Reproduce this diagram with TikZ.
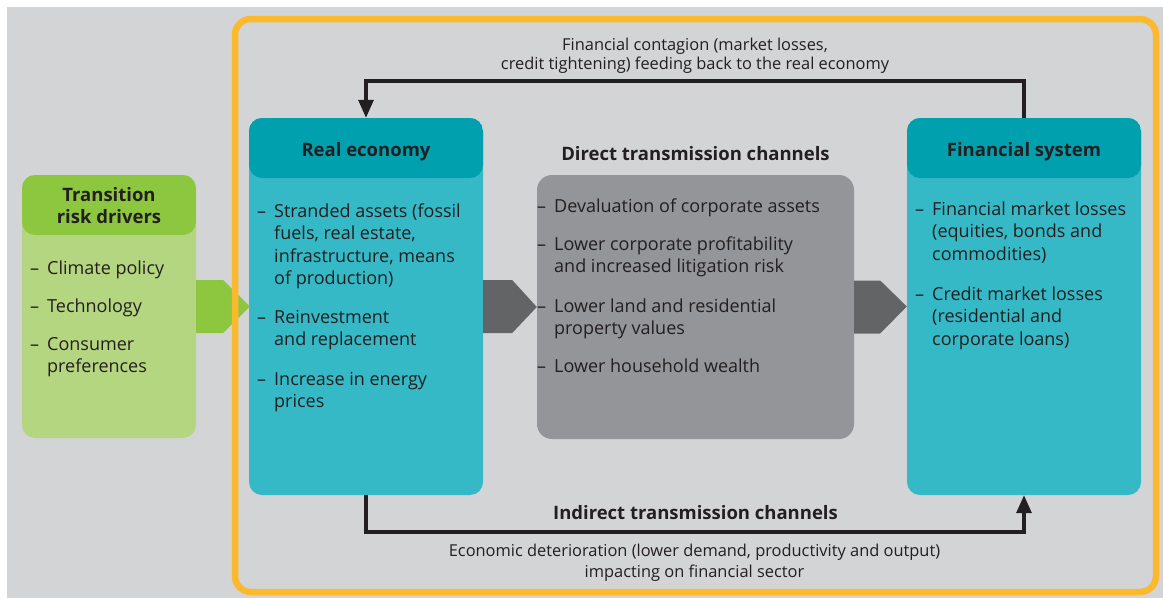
\documentclass[tikz,border=0pt]{standalone}
\usepackage{fontspec}
\setmainfont{Open Sans}
\usetikzlibrary{arrows.meta,calc}
\definecolor{bg}{HTML}{D3D4D6}
\definecolor{orng}{HTML}{FDB92E}
\definecolor{greenH}{HTML}{8DC63F}
\definecolor{greenB}{HTML}{B5D680}
\definecolor{tealH}{HTML}{00A0AF}
\definecolor{tealB}{HTML}{36B9C6}
\definecolor{midgray}{HTML}{939598}
\definecolor{arrgray}{HTML}{636466}
\definecolor{txt}{HTML}{231F20}
\newcommand\itm[1]{\makebox[17pt][l]{–}\begin{tabular}[t]{@{}l@{}}#1\end{tabular}}
\tikzset{
  x=1pt,y=-1pt,
  rbox/.style={inner sep=0pt, rounded corners=13pt, draw=none},
  hbox/.style 2 args={rbox, fill=#1, path picture={\fill[#2] (path picture bounding box.north west) rectangle ([yshift=-60pt]path picture bounding box.north east);}},
  hdtxt/.style={font=\bfseries\fontsize{18.5}{22}\selectfont, text=txt, align=center, inner sep=0pt},
  bdtxt/.style={font=\fontsize{18}{22.5}\selectfont, text=txt, anchor=base west, inner sep=0pt},
  captxt/.style={font=\fontsize{16.4}{19}\selectfont, text=txt, align=center, inner sep=0pt},
  conn/.style={draw=txt, line width=3.2pt},
  arrtip/.style={-{Triangle[length=18pt,width=15pt]}},
}
\begin{document}
\begin{tikzpicture}
\useasboundingbox (0,0) rectangle (1163,598);
\fill[white] (0,0) rectangle (1163,598);
\fill[bg] (7,7) rectangle (1163,598);

% boxes
\node[hbox={greenB}{greenH}, minimum width=174pt, minimum height=263pt] (drv) at (109,306.5) {};
\node[hbox={tealB}{tealH}, minimum width=234pt, minimum height=377pt] (re) at (366,306.5) {};
\node[rbox, fill=midgray, minimum width=317pt, minimum height=264pt, rounded corners=15pt] (mid) at (695.5,307) {};
\node[hbox={tealB}{tealH}, minimum width=234pt, minimum height=377pt] (fin) at (1024,306.5) {};

% chevrons
\fill[greenH] ($(drv.east)+(0,-26.5)$) -- ++(27,0) -- ($(re.west)+(1,0)$) -- ($(drv.east)+(27,26.5)$) -- ($(drv.east)+(0,26.5)$) -- cycle;
\fill[arrgray] ($(re.east)+(0,-26.5)$) -- ++(29,0) -- (mid.west) -- ($(re.east)+(29,26.5)$) -- ($(re.east)+(0,26.5)$) -- cycle;
\fill[arrgray] ($(mid.east)+(0,-26.5)$) -- ++(26,0) -- (fin.west) -- ($(mid.east)+(26,26.5)$) -- ($(mid.east)+(0,26.5)$) -- cycle;

% frame
\draw[orng, line width=6.5pt, rounded corners=16pt] (235,19) rectangle (1156,592);

% headers
\node[hdtxt] (drvT) at (109,206) {Transition\\risk drivers};
\node[hdtxt, anchor=base] (reT) at (366,156) {Real economy};
\node[hdtxt, anchor=base] (midT) at (695.5,160) {Direct transmission channels};
\node[hdtxt, anchor=base] (finT) at (1024,156) {Financial system};
\node[hdtxt, anchor=base] (indT) at (695.5,519) {Indirect transmission channels};

% items: drivers
\node[bdtxt] (d1) at (30,274) {\itm{Climate policy}};
\node[bdtxt] (d2) at (30,312) {\itm{Technology}};
\node[bdtxt] (d3) at (30,350) {\itm{Consumer\\preferences}};
% real economy
\node[bdtxt] (r1) at (257,217) {\itm{Stranded assets (fossil\\fuels, real estate,\\infrastructure, means\\of production)}};
\node[bdtxt] (r2) at (257,323) {\itm{Reinvestment\\and replacement}};
\node[bdtxt] (r3) at (257,385) {\itm{Increase in energy\\prices}};
% middle
\node[bdtxt] (m1) at (537,212) {\itm{Devaluation of corporate assets}};
\node[bdtxt] (m2) at (537,250) {\itm{Lower corporate profitability\\and increased litigation risk}};
\node[bdtxt] (m3) at (537,312) {\itm{Lower land and residential\\property values}};
\node[bdtxt] (m4) at (537,372) {\itm{Lower household wealth}};
% financial
\node[bdtxt] (f1) at (915,215) {\itm{Financial market losses\\(equities, bonds and\\commodities)}};
\node[bdtxt] (f2) at (915,300) {\itm{Credit market losses\\(residential and\\corporate loans)}};

% connectors
\coordinate (topY) at (0,81);
\coordinate (botY) at (0,532);
\draw[conn, arrtip] (fin.north) -- (fin.north |- topY) -| (re.north);
\draw[conn, arrtip] (re.south) -- (re.south |- botY) -| (fin.south);

% captions
\node[captxt] (topcap) at (695,56) {Financial contagion (market losses,\\credit tightening) feeding back to the real economy};
\node[captxt, font=\fontsize{16.4}{21}\selectfont] (botcap) at (694.5,563) {Economic deterioration (lower demand, productivity and output)\\impacting on financial sector};
\end{tikzpicture}
\end{document}
